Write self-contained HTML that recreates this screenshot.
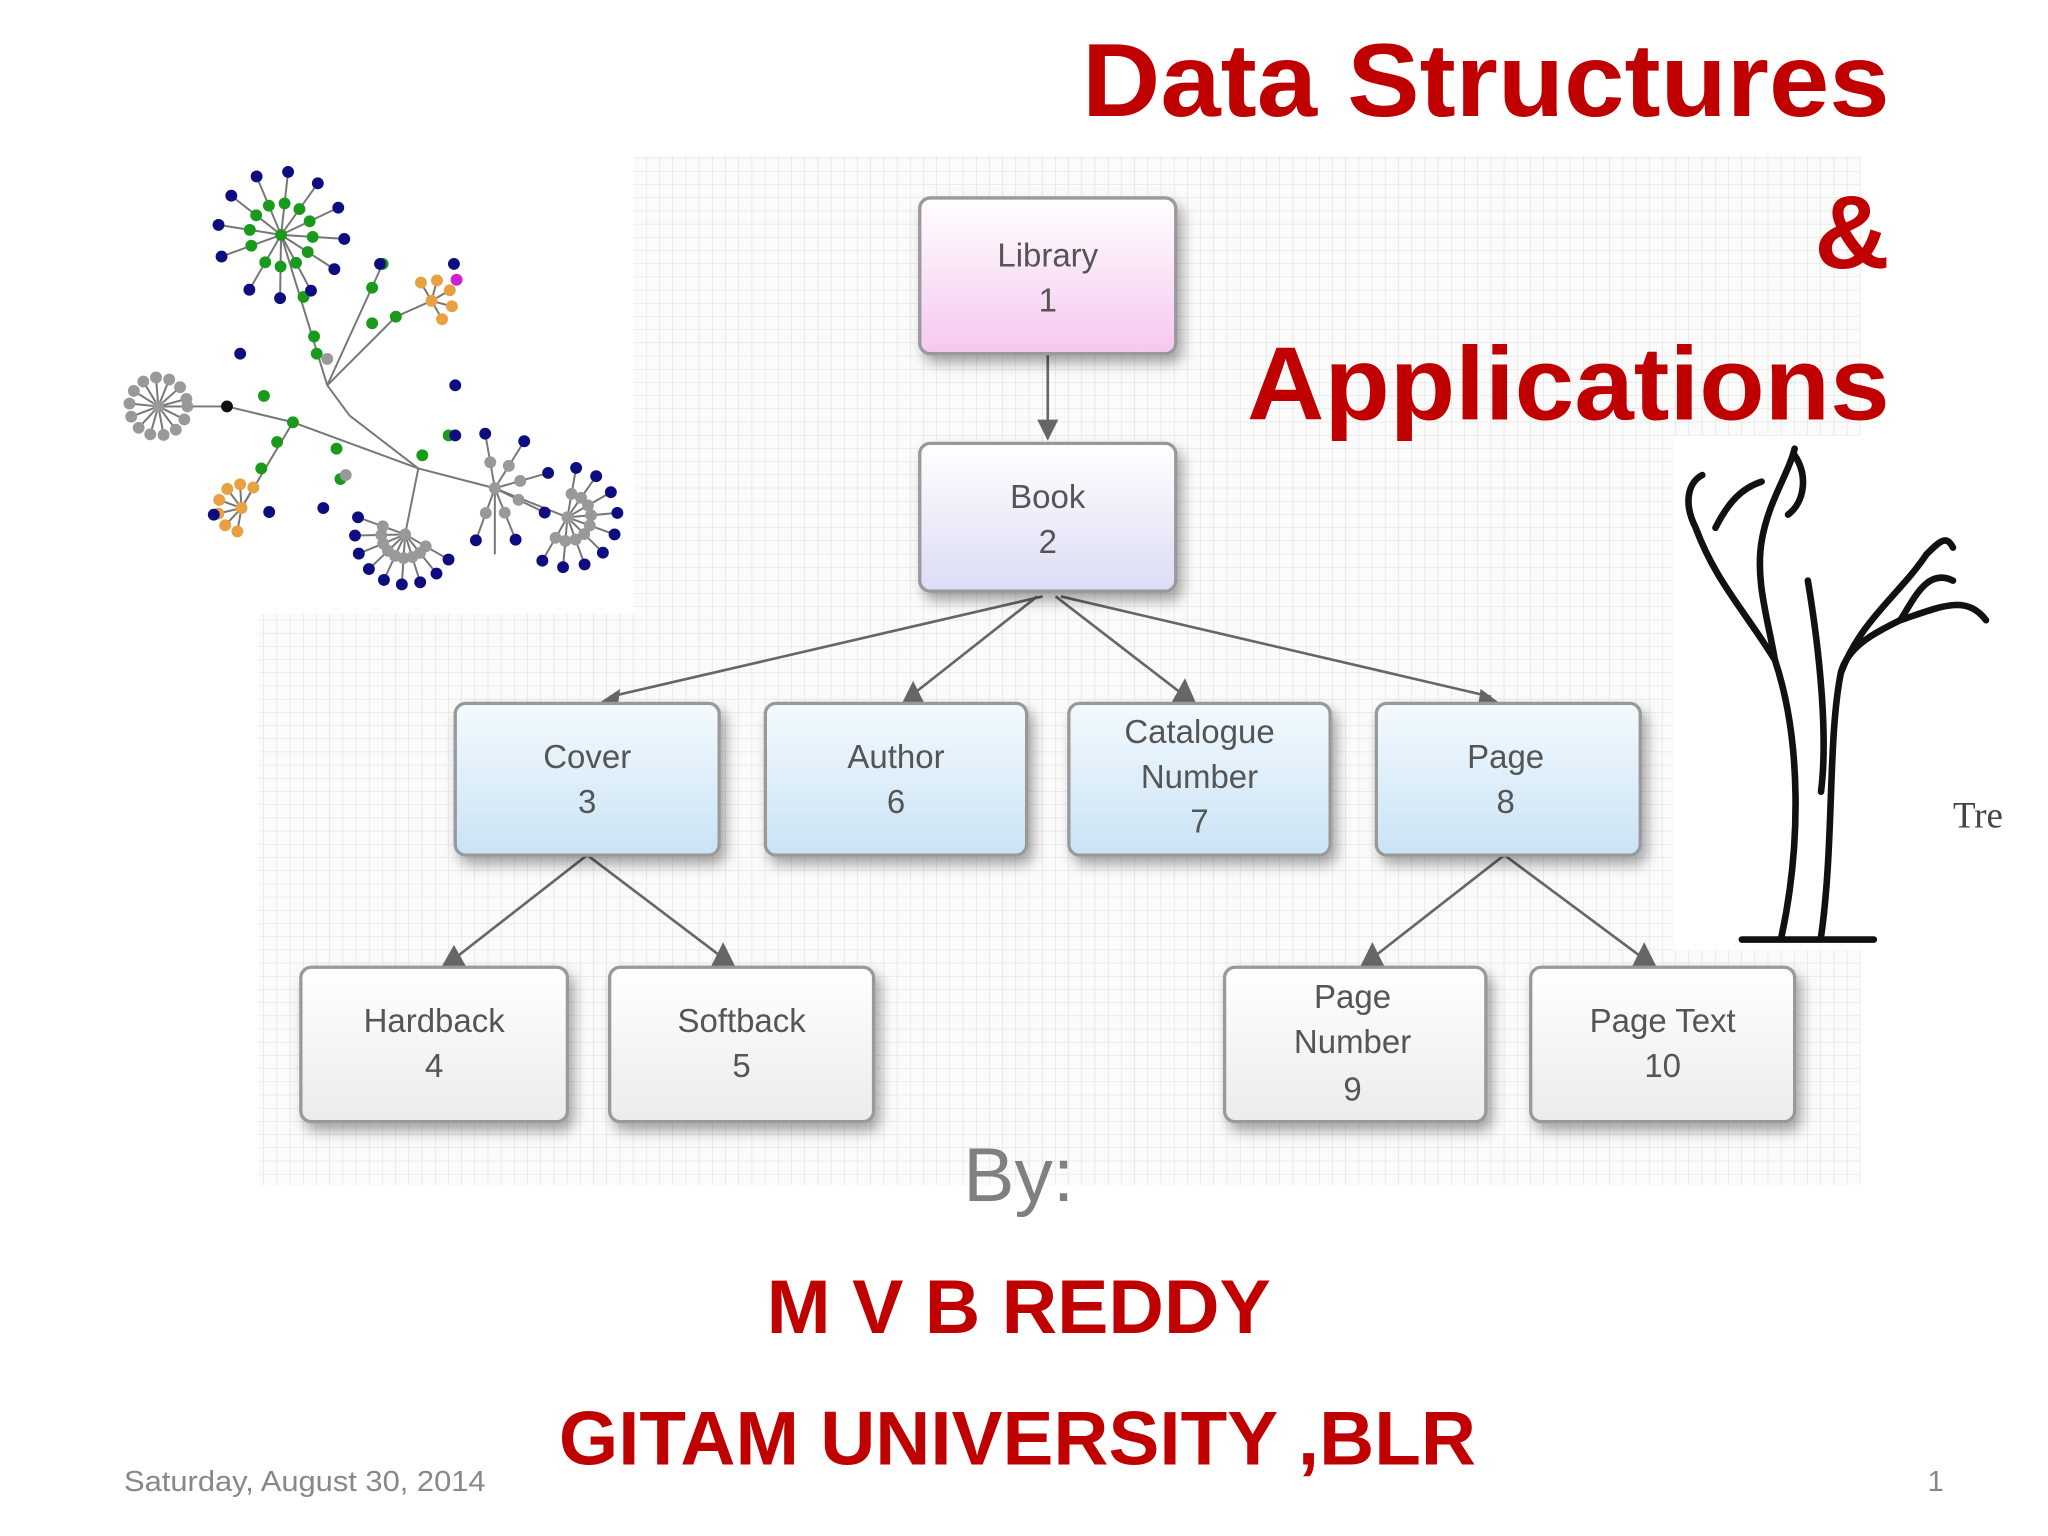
<!DOCTYPE html>
<html><head><meta charset="utf-8"><style>
html,body{margin:0;padding:0;background:#fff;}
svg{display:block;}
</style></head><body>
<svg id="s" width="2048" height="1536" viewBox="0 0 1552 1164" xmlns="http://www.w3.org/2000/svg">
<defs>
<pattern id="g" width="10" height="10" patternUnits="userSpaceOnUse">
<rect width="10" height="10" fill="#fbfbfb"/>
<path d="M10 0V10H0" fill="none" stroke="#dcdcdc" stroke-width="0.8"/>
</pattern>
<linearGradient id="pk" x1="0" y1="0" x2="0" y2="1"><stop offset="0" stop-color="#fff"/><stop offset="1" stop-color="#f5c8ef"/></linearGradient>
<linearGradient id="lv" x1="0" y1="0" x2="0" y2="1"><stop offset="0" stop-color="#fff"/><stop offset="1" stop-color="#dcdcf5"/></linearGradient>
<linearGradient id="bl" x1="0" y1="0" x2="0" y2="1"><stop offset="0" stop-color="#f4faff"/><stop offset="1" stop-color="#c9e3f5"/></linearGradient>
<linearGradient id="gr" x1="0" y1="0" x2="0" y2="1"><stop offset="0" stop-color="#fff"/><stop offset="1" stop-color="#ececec"/></linearGradient>
<filter id="sh" x="-20%" y="-20%" width="150%" height="150%"><feDropShadow dx="4" dy="6" stdDeviation="5" flood-color="#000" flood-opacity="0.35"/></filter>
</defs>
<rect x="480" y="118" width="930" height="350" fill="url(#g)"/>
<rect x="196" y="465" width="1214" height="433" fill="url(#g)"/>
<rect x="1268" y="330" width="284" height="390" fill="#fff"/>
<g stroke="#666" stroke-width="2" fill="none">
<line x1="794" y1="268" x2="794" y2="322"/>
<line x1="790" y1="452" x2="462" y2="528"/>
<line x1="786" y1="452" x2="692" y2="526"/>
<line x1="800" y1="452" x2="896" y2="526"/>
<line x1="804" y1="452" x2="1130" y2="528"/>
<line x1="445" y1="648" x2="345" y2="726"/>
<line x1="445" y1="648" x2="548" y2="726"/>
<line x1="1140" y1="648" x2="1040" y2="726"/>
<line x1="1140" y1="648" x2="1245" y2="726"/>
</g>
<g fill="#666">
<polygon points="786,318 802,318 794,334"/>
<polygon points="452,534 470,522 468,536"/>
<polygon points="684,532 700,532 692,516"/>
<polygon points="888,532 906,532 898,514"/>
<polygon points="1122,522 1138,534 1120,536"/>
<polygon points="335,732 353,732 344,716"/>
<polygon points="539,732 557,732 548,714"/>
<polygon points="1031,732 1049,732 1040,714"/>
<polygon points="1237,732 1255,732 1246,714"/>
</g>
<g filter="url(#sh)" stroke="#999" stroke-width="2.5">
<rect x="697" y="150" width="194" height="118" rx="8" fill="url(#pk)"/>
<rect x="697" y="336" width="194" height="112" rx="8" fill="url(#lv)"/>
<rect x="345" y="533" width="200" height="115" rx="8" fill="url(#bl)"/>
<rect x="580" y="533" width="198" height="115" rx="8" fill="url(#bl)"/>
<rect x="810" y="533" width="198" height="115" rx="8" fill="url(#bl)"/>
<rect x="1043" y="533" width="200" height="115" rx="8" fill="url(#bl)"/>
<rect x="228" y="733" width="202" height="117" rx="8" fill="url(#gr)"/>
<rect x="462" y="733" width="200" height="117" rx="8" fill="url(#gr)"/>
<rect x="928" y="733" width="198" height="117" rx="8" fill="url(#gr)"/>
<rect x="1160" y="733" width="200" height="117" rx="8" fill="url(#gr)"/>
</g>
<g font-family="Liberation Sans, sans-serif" font-size="25" fill="#555" text-anchor="middle">
<text x="794" y="202">Library</text><text x="794" y="236">1</text>
<text x="794" y="385">Book</text><text x="794" y="419">2</text>
<text x="445" y="582">Cover</text><text x="445" y="616">3</text>
<text x="679" y="582">Author</text><text x="679" y="616">6</text>
<text x="909" y="563">Catalogue</text><text x="909" y="597">Number</text><text x="909" y="631">7</text>
<text x="1141" y="582">Page</text><text x="1141" y="616">8</text>
<text x="329" y="782">Hardback</text><text x="329" y="816">4</text>
<text x="562" y="782">Softback</text><text x="562" y="816">5</text>
<text x="1025" y="764">Page</text><text x="1025" y="798">Number</text><text x="1025" y="834">9</text>
<text x="1260" y="782">Page Text</text><text x="1260" y="816">10</text>
</g>
<rect x="90" y="118" width="390" height="347" fill="#fff"/>
<g id="net" stroke="#777" stroke-width="1.5"></g>
<g fill="none" stroke="#111" stroke-width="5" stroke-linecap="round" stroke-linejoin="round">
<path d="M1350 710 C1365 640 1365 560 1345 500 C1320 460 1300 440 1285 400 C1275 380 1280 365 1290 360"/>
<path d="M1380 710 C1390 640 1385 560 1395 510 C1410 470 1440 450 1460 420"/>
<path d="M1345 500 C1340 470 1330 440 1335 410 C1340 380 1355 360 1360 340"/>
<path d="M1395 510 C1400 490 1420 480 1440 470 C1470 460 1490 450 1505 470"/>
<path d="M1320 712 L1420 712"/>
<path d="M1300 400 C1310 380 1320 370 1335 365 M1360 345 C1370 360 1368 380 1355 390"/>
<path d="M1440 470 C1450 455 1460 430 1480 440 M1460 420 C1470 410 1475 405 1480 415"/>
<path d="M1380 600 C1385 560 1380 500 1370 440"/>
</g>
<text x="1480" y="627" font-family="Liberation Serif, serif" font-size="28" fill="#444">Tre</text>
<g font-family="Liberation Sans, sans-serif" font-weight="bold" fill="#c00000" text-anchor="end">
<text x="1432" y="88" font-size="79" textLength="612" lengthAdjust="spacingAndGlyphs">Data Structures</text>
<text x="1432" y="203" font-size="79">&amp;</text>
<text x="1432" y="318" font-size="79" textLength="487" lengthAdjust="spacingAndGlyphs">Applications</text>
</g>
<text x="772" y="910" font-family="Liberation Sans, sans-serif" font-size="58" fill="#808080" text-anchor="middle" textLength="84" lengthAdjust="spacingAndGlyphs">By:</text>
<g font-family="Liberation Sans, sans-serif" font-weight="bold" fill="#c00000" text-anchor="middle">
<text x="772" y="1010" font-size="58" textLength="382" lengthAdjust="spacingAndGlyphs">M V B REDDY</text>
<text x="771" y="1110" font-size="58" textLength="695" lengthAdjust="spacingAndGlyphs">GITAM UNIVERSITY ,BLR</text>
</g>
<text x="94" y="1130" font-family="Liberation Sans, sans-serif" font-size="22" fill="#888" textLength="274" lengthAdjust="spacingAndGlyphs">Saturday, August 30, 2014</text>
<text x="1473" y="1130" font-family="Liberation Sans, sans-serif" font-size="22" fill="#888" text-anchor="end">1</text>
</svg>
<script>
var g=document.getElementById('net'),ns='http://www.w3.org/2000/svg',dots=[];
function L(a,b,c,d){var l=document.createElementNS(ns,'line');l.setAttribute('x1',a);l.setAttribute('y1',b);l.setAttribute('x2',c);l.setAttribute('y2',d);g.appendChild(l);}
function D(x,y,c,r){dots.push([x,y,c,r||4.5]);}
var G='#1a9a1a',B='#0d0d80',Y='#999',O='#e8a040';
function hub(cx,cy,n,r1,r2,c1,c2,a0,a1){for(var i=0;i<n;i++){var a=(a0+(a1-a0)*i/(n-1))*Math.PI/180;var x1=cx+r1*Math.cos(a),y1=cy+r1*Math.sin(a);L(cx,cy,x1,y1);D(x1,y1,c1);if(c2){var x2=cx+r2*Math.cos(a),y2=cy+r2*Math.sin(a);L(x1,y1,x2,y2);D(x2,y2,c2);}}D(cx,cy,c1);}
// trunk lines
var T=[[213,178,248,292],[248,292,265,315],[265,315,317,355],[317,355,375,370],[375,370,430,392],[172,308,222,320],[222,320,317,355],[248,292,300,240],[300,240,327,228],[222,320,183,385],[120,308,172,308],[317,355,307,405],[375,370,375,420],[248,292,290,200]];
T.forEach(function(t){L(t[0],t[1],t[2],t[3]);});
[[230,225],[240,268],[300,240],[282,218],[282,245],[222,320],[200,300],[210,335],[198,355],[255,340],[258,363],[290,200],[340,330],[238,255]].forEach(function(p){D(p[0],p[1],G);});
hub(213,178,12,24,48,G,B,-200,120);
hub(120,308,14,22,0,Y,null,0,345);
D(172,308,'#111');
hub(183,385,7,18,0,O,null,100,300);D(162,390,B);D(204,388,B);
hub(327,228,5,16,0,O,null,-120,60);D(346,212,'#d020d0');D(344,200,B);D(288,200,B);
hub(307,405,9,18,38,Y,B,30,200);
hub(375,370,6,20,42,Y,B,-100,110);
hub(430,392,9,18,38,Y,B,-80,120);
D(345,292,B);D(345,330,B);D(320,345,G);D(245,385,B);D(262,360,Y);D(248,272,Y);D(182,268,B);
dots.forEach(function(d){var c=document.createElementNS(ns,'circle');c.setAttribute('cx',d[0]);c.setAttribute('cy',d[1]);c.setAttribute('r',d[3]);c.setAttribute('fill',d[2]);c.setAttribute('stroke','none');g.appendChild(c);});
</script>
</body></html>
